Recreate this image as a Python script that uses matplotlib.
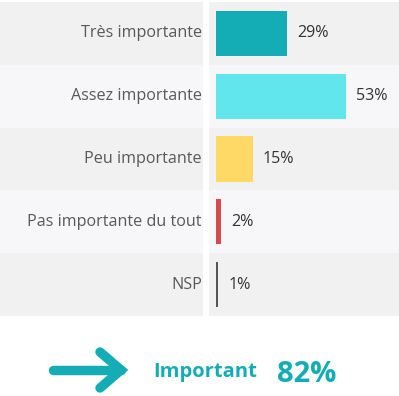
import matplotlib
matplotlib.use("Agg")
import matplotlib.pyplot as plt

categories = ["Très importante", "Assez importante", "Peu importante", "Pas importante du tout", "NSP"]
values = [29, 53, 15, 2, 1]
bar_colors = ["#14adb5", "#62e6ee", "#fed966", "#d9484b", "#555555"]
row_bg = ["#f1f1f1", "#f7f7f9", "#f1f1f1", "#f7f7f9", "#f1f1f1"]
summary_label = "Important"
summary_value = "82%"

W, H = 399, 396
fig = plt.figure(figsize=(W / 100, H / 100), dpi=100)
fig.patch.set_facecolor("white")
FONT = "Open Sans"

def px_axes(x, y, w, h):
    return fig.add_axes([x / W, 1 - (y + h) / H, w / W, h / H])

top, bottom = 2, 316
n = len(categories)

# label panel
axl = px_axes(0, top, 203, bottom - top)
axl.set_xlim(0, 1)
axl.set_ylim(n - 0.5, -0.5)
axl.axis("off")
for i, c in enumerate(categories):
    axl.axhspan(i - 0.5, i + 0.5, color=row_bg[i], lw=0)
    axl.text(0.995, i, c, ha="right", va="center", fontsize=11.6,
             color="#595959", family=FONT)

# bar panel
axb = px_axes(209, top, W - 209, bottom - top)
scale = 2.45
x0 = -7 / scale
axb.set_xlim(x0, x0 + (W - 209) / scale)
axb.set_ylim(n - 0.5, -0.5)
axb.axis("off")
for i in range(n):
    axb.axhspan(i - 0.5, i + 0.5, color=row_bg[i], lw=0)
axb.barh(range(n), values, height=0.72, color=bar_colors, lw=0)
for i, v in enumerate(values):
    axb.text(v + 10 / scale, i, f"{v}%", ha="left", va="center",
             fontsize=11.6, color="#333333", family=FONT)

# bottom summary
teal = "#14adb5"
fig.text(153 / W, 1 - 372 / H, summary_label, ha="left", va="center",
         fontsize=14.5, fontweight="bold", color=teal, family=FONT)
fig.text(277 / W, 1 - 374 / H, summary_value, ha="left", va="center",
         fontsize=21, fontweight="bold", color=teal, family=FONT)
ax_arrow = px_axes(0, 330, W, 66)
ax_arrow.set_xlim(0, W)
ax_arrow.set_ylim(66, 0)
ax_arrow.axis("off")
ax_arrow.plot([53, 121], [40, 40], color=teal, lw=6.8, solid_capstyle="round")
ax_arrow.plot([100, 121, 100], [22, 40, 58], color=teal, lw=6.8,
              solid_capstyle="round", solid_joinstyle="miter")

fig.savefig("out.png", dpi=100, facecolor="white")
